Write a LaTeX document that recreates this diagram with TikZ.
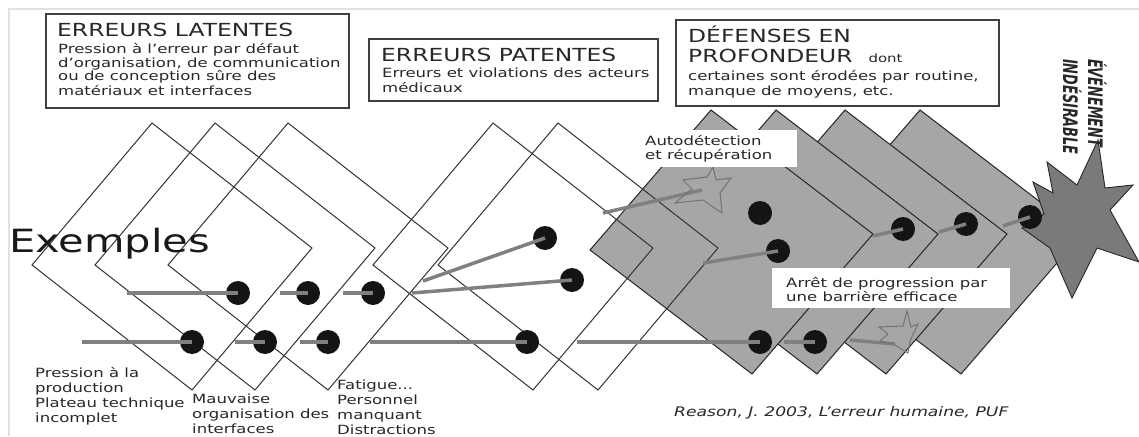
\documentclass[tikz,border=0pt]{standalone}
\usepackage{fontspec}
\setmainfont{DejaVu Sans}[FakeStretch=1.3]
\newfontfamily\evfont{DejaVu Sans}[FakeStretch=0.64]
\definecolor{diamgrey}{RGB}{166,166,166}
\definecolor{stargrey}{RGB}{122,122,122}
\definecolor{trajgrey}{RGB}{128,128,128}
\definecolor{txtcol}{RGB}{40,40,40}
\definecolor{framegrey}{RGB}{225,225,225}
\tikzset{
  wd/.style={draw=black!80, line width=1pt},
  gd/.style={draw=black!85, line width=1pt, fill=diamgrey},
  burst/.style={draw=black!85, line width=0.9pt, fill=stargrey},
  hollow/.style={draw=black!55, line width=1pt},
  bdot/.style={circle, fill=black!92, minimum size=24pt, inner sep=0pt},
  traj/.style={draw=trajgrey, line width=3.5pt},
  box/.style={draw=black!75, line width=1.6pt, fill=white, anchor=north west, inner sep=0pt},
  wbox/.style={fill=white, anchor=north west, inner sep=0pt},
  lbl/.style={anchor=base west, inner sep=0pt, align=left, text=txtcol},
  ttl/.style={lbl, font=\fontsize{18}{20}\selectfont},
  body/.style={lbl, font=\fontsize{12.7}{14}\selectfont},
  ex/.style={lbl, font=\fontsize{12.7}{15}\selectfont},
}
\begin{document}
\begin{tikzpicture}[x=1pt,y=-1pt]
\useasboundingbox (0,0) rectangle (1139,436);
\fill[white] (0,0) rectangle (1139,436);
\draw[framegrey, line width=1.5pt] (9,436) -- (9,9) -- (1139,9);

% grey barriers (rightmost underneath)
\foreach \t in {920,845,776,711}
  \filldraw[gd] (\t,110) -- ++(162,124) -- ++(-121,140) -- ++(-162,-124) -- cycle;

% white barriers (outline only)
\foreach \t in {152,215,288,493,558}
  \draw[wd] (\t,123) -- ++(160,125) -- ++(-120,142) -- ++(-160,-125) -- cycle;

% undesirable event burst
\filldraw[burst] (1022,228) -- (1044,214) -- (1033,182) -- (1053,193) -- (1047,162)
  -- (1077,185) -- (1098,140) -- (1105,188) -- (1133,185) -- (1110,210) -- (1139,262)
  -- (1097,248) -- (1072,298) -- (1050,248) -- cycle;

% dots
\node[bdot] (a1) at (238,293) {};
\node[bdot] (a2) at (308,293) {};
\node[bdot] (a3) at (373,293) {};
\node[bdot] (b1) at (192,342) {};
\node[bdot] (b2) at (265,342) {};
\node[bdot] (b3) at (328,342) {};
\node[bdot] (c1) at (545,238) {};
\node[bdot] (c2) at (572,280) {};
\node[bdot] (c3) at (527,342) {};
\node[bdot] (d1) at (760,213) {};
\node[bdot] (d2) at (778,251) {};
\node[bdot] (d3) at (760,342) {};
\node[bdot] (d4) at (815,342) {};
\node[bdot] (e1) at (903,229) {};
\node[bdot] (e2) at (966,224) {};
\node[bdot] (e3) at (1030,217) {};

% line starts
\coordinate (sa1) at (127,293);
\coordinate (sa2) at (280,293);
\coordinate (sa3) at (343,293);
\coordinate (sb1) at (82,342);
\coordinate (sb2) at (235,342);
\coordinate (sb3) at (300,342);
\coordinate (sc1) at (423,281);
\coordinate (sc2) at (412,293);
\coordinate (sc3) at (370,342);
\coordinate (sd2) at (703,263);
\coordinate (sd3) at (577,342);
\coordinate (sd4) at (784,342);
\coordinate (se1) at (873,236);
\coordinate (se2) at (939,232);
\coordinate (se3) at (1003,226);
\coordinate (sf1) at (603,213);
\coordinate (ef1) at (702,190);
\coordinate (sf2) at (850,340);
\coordinate (ef2) at (895,344);

% trajectories
\draw[traj] (sa1) -- (a1.center);
\draw[traj] (sa2) -- (a2.center);
\draw[traj] (sa3) -- (a3.center);
\draw[traj] (sb1) -- (b1.center);
\draw[traj] (sb2) -- (b2.center);
\draw[traj] (sb3) -- (b3.center);
\draw[traj] (sc1) -- (c1.center);
\draw[traj] (sc2) -- (c2.center);
\draw[traj] (sc3) -- (c3.center);
\draw[traj] (sd2) -- (d2.center);
\draw[traj] (sd3) -- (d3.center);
\draw[traj] (sd4) -- (d4.center);
\draw[traj] (se1) -- (e1.center);
\draw[traj] (se2) -- (e2.center);
\draw[traj] (se3) -- (e3.center);
\draw[traj] (sf1) -- (ef1);
\draw[traj] (sf2) -- (ef2);

% small hollow bursts (self-detection / stopped)
\draw[hollow] (683,180) -- (707,177) -- (713,167) -- (716,180) -- (731,178) -- (720,193)
  -- (722,213) -- (703,200) -- (675,203) -- (692,189) -- cycle;
\draw[hollow] (879,327) -- (903,326) -- (907,311) -- (911,327) -- (918,324) -- (910,341)
  -- (908,353) -- (893,344) -- (880,341) -- (888,334) -- cycle;

% boxes
\node[box, minimum width=303pt, minimum height=94pt] (bx1) at (45,13) {};
\node[box, minimum width=289pt, minimum height=62pt] (bx2) at (368,38) {};
\node[box, minimum width=323pt, minimum height=86pt] (bx3) at (675,19) {};
\node[wbox, minimum width=155pt, minimum height=37pt] (bx4) at (642,130) {};
\node[wbox, minimum width=238pt, minimum height=40pt] (bx5) at (772,268) {};

% box texts (multi-line nodes are placed at the baseline of their last line)
\node[ttl] (t1) at (57,37) {ERREURS LATENTES};
\node[body] (t1b) at (58,95) {Pression à l'erreur par défaut\\d’organisation, de communication\\ou de conception sûre des\\matériaux et interfaces};
\node[ttl] (t2) at (381,62) {ERREURS PATENTES};
\node[body] (t2b) at (382,92) {Erreurs et violations des acteurs\\médicaux};
\node[ttl] (t3) at (688,63) {DÉFENSES EN\\PROFONDEUR\hspace{16pt}{\fontsize{11.5}{14}\selectfont dont}};
\node[body] (t3b) at (688,95) {certaines sont érodées par routine,\\manque de moyens, etc.};
\node[body] (t4) at (645,159) {Autodétection\\et récupération};
\node[body] (t5) at (786,301) {Arrêt de progression par\\une barrière efficace};

% examples
\node[lbl, text=black!90, font=\fontsize{32}{36}\selectfont] (ex) at (9,252) {Exemples};
\node[ex] (x1) at (35,422) {Pression à la\\production\\Plateau technique\\incomplet};
\node[ex] (x2) at (192,433) {Mauvaise\\organisation des\\interfaces};
\node[ex] (x3) at (337,434) {Fatigue...\\Personnel\\manquant\\Distractions};
\node[lbl, font=\fontsize{13.2}{14}\selectfont\itshape] (ref) at (674,416) {Reason, J. 2003, L’erreur humaine, PUF};

% event label
\node[lbl, rotate=-90, font=\evfont\bfseries\itshape\fontsize{20}{25}\selectfont] (ev) at (1063,59) {ÉVÉNEMENT\\INDÉSIRABLE};
\end{tikzpicture}
\end{document}
